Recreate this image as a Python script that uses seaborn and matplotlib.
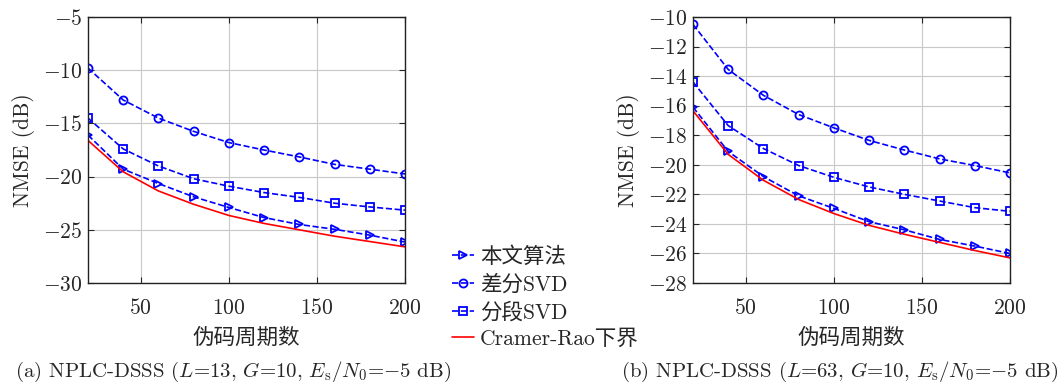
import pandas as pd
import matplotlib
matplotlib.use("Agg")
import matplotlib.pyplot as plt
import seaborn as sns

# data
periods = [20, 40, 60, 80, 100, 120, 140, 160, 180, 200]

# (a) L=13
a_proposed = [-16.1, -19.3, -20.65, -21.9, -22.9, -23.85, -24.5, -24.95, -25.5, -26.15]
a_diff_svd = [-9.8, -12.8, -14.5, -15.75, -16.8, -17.5, -18.15, -18.85, -19.3, -19.75]
a_seg_svd = [-14.5, -17.4, -19.0, -20.2, -20.9, -21.5, -21.95, -22.5, -22.85, -23.15]
a_crb = [-16.6, -19.55, -21.35, -22.6, -23.65, -24.4, -25.0, -25.6, -26.1, -26.6]

# (b) L=63
b_proposed = [-16.1, -19.1, -20.8, -22.1, -22.95, -23.85, -24.4, -25.05, -25.5, -26.0]
b_diff_svd = [-10.5, -13.55, -15.3, -16.6, -17.5, -18.35, -19.0, -19.6, -20.05, -20.55]
b_seg_svd = [-14.4, -17.35, -18.9, -20.05, -20.85, -21.5, -22.0, -22.45, -22.9, -23.15]
b_crb = [-16.35, -19.3, -21.05, -22.35, -23.3, -24.1, -24.7, -25.25, -25.8, -26.3]

labels = ["本文算法", "差分SVD", "分段SVD", "Cramer-Rao下界"]
xticks = [50, 100, 150, 200]

sns.set_style("ticks")
plt.rcParams['font.family'] = ['cmr10', 'Noto Sans CJK SC']
plt.rcParams['mathtext.fontset'] = 'cm'
plt.rcParams['axes.formatter.use_mathtext'] = True
plt.rcParams['axes.unicode_minus'] = True

fig = plt.figure(figsize=(10.59, 3.85), dpi=100)
ax1 = fig.add_axes([0.0831, 0.2649, 0.2993, 0.6909])
ax2 = fig.add_axes([0.6544, 0.2649, 0.2993, 0.6909])

styles = [('>', '--', 'blue'), ('o', '--', 'blue'), ('s', '--', 'blue'), (None, '-', 'red')]
fs = 15.5


def draw(ax, series, ylim, yticks):
    for vals, lab, (mk, ls, col) in zip(series, labels, styles):
        df = pd.DataFrame({'x': periods, 'y': vals})
        kw = dict(color=col, linewidth=1.2, linestyle=ls, label=lab)
        if mk:
            kw.update(marker=mk, markersize=5.8, markerfacecolor='none',
                      markeredgecolor=col, markeredgewidth=1.3, dashes=(5, 3))
        sns.lineplot(data=df, x='x', y='y', ax=ax, **kw)
    ax.set_xlim(20, 200)
    ax.set_ylim(*ylim)
    ax.set_xticks(xticks)
    ax.set_yticks(yticks)
    ax.grid(True, color='#c8c8c8', linewidth=0.8)
    ax.tick_params(direction='in', top=True, right=True, labelsize=fs, length=4)
    ax.tick_params(axis='x', pad=11)
    ax.tick_params(axis='y', pad=4)
    ax.set_xlabel('伪码周期数', fontsize=fs, labelpad=7)
    ax.set_ylabel('NMSE (dB)', fontsize=fs, labelpad=6)
    for s in ax.spines.values():
        s.set_linewidth(1.0)
        s.set_color('#222222')
    if ax.get_legend():
        ax.get_legend().remove()


draw(ax1, [a_proposed, a_diff_svd, a_seg_svd, a_crb], (-30, -5), [-30, -25, -20, -15, -10, -5])
draw(ax2, [b_proposed, b_diff_svd, b_seg_svd, b_crb], (-28, -10), list(range(-28, -9, 2)))

handles, _ = ax1.get_legend_handles_labels()
fig.legend(handles, labels, loc='upper left', bbox_to_anchor=(0.4268, 0.36),
           frameon=False, fontsize=fs, handlelength=1.0, handletextpad=0.3,
           labelspacing=0.33, borderpad=0.0, borderaxespad=0.0)

fig.text(0.22, 0.034, r'(a) NPLC-DSSS ($L$=13, $G$=10, $E_\mathrm{s}/N_0$=$-$5 dB)',
         ha='center', va='center', fontsize=15)
fig.text(0.793, 0.034, r'(b) NPLC-DSSS ($L$=63, $G$=10, $E_\mathrm{s}/N_0$=$-$5 dB)',
         ha='center', va='center', fontsize=15)

fig.savefig('out.png', dpi=100)
